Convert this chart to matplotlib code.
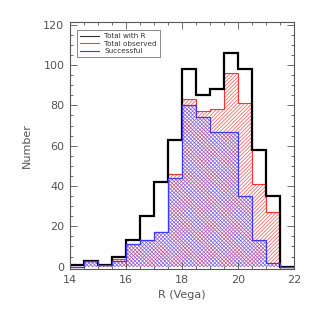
import numpy as np
import matplotlib.pyplot as plt
from matplotlib.ticker import MultipleLocator

# bin edges in R (Vega)
edges = np.arange(14.0, 22.01, 0.5)
# counts per bin
total_r = [1, 3, 1, 5, 13, 25, 42, 63, 98, 85, 88, 106, 98, 58, 35, 0]
observed = [0, 3, 1, 4, 11, 13, 17, 46, 83, 77, 78, 96, 81, 41, 27, 0]
success = [0, 3, 1, 3, 11, 13, 17, 44, 80, 74, 67, 67, 35, 13, 2, 0]

plt.rcParams['hatch.linewidth'] = 0.5
fig = plt.figure(figsize=(3.15, 3.15), dpi=100)
ax = fig.add_axes([0.222, 0.146, 0.711, 0.785])

gray = '#555555'
ax.stairs(observed, edges, fill=True, facecolor='none', edgecolor='#ff5050',
          hatch='/' * 9, linewidth=0)
ax.stairs(success, edges, fill=True, facecolor='none', edgecolor='#5050ff',
          hatch='\\' * 9, linewidth=0)
ax.stairs(observed, edges, color='#ff3030', linewidth=0.8)
ax.stairs(total_r, edges, color='black', linewidth=1.6)
ax.stairs(success, edges, color='#3a3aff', linewidth=0.9)

ax.plot([], [], color='#333333', lw=0.8, label='Total with R')
ax.plot([], [], color='#ff4040', lw=0.8, label='Total observed')
ax.plot([], [], color='#4040ff', lw=0.8, label='Successful')
leg = ax.legend(loc='upper left', fontsize=5.2, frameon=True, fancybox=False,
                handlelength=2.6, borderpad=0.4, labelspacing=0.2,
                bbox_to_anchor=(0.015, 0.98))
leg.get_frame().set_edgecolor(gray)
leg.get_frame().set_linewidth(0.6)
for t in leg.get_texts():
    t.set_color('#333333')

ax.set_xlim(14, 22)
ax.set_ylim(-1.2, 121.5)
ax.xaxis.set_major_locator(MultipleLocator(2))
ax.xaxis.set_minor_locator(MultipleLocator(0.5))
ax.yaxis.set_major_locator(MultipleLocator(20))
ax.yaxis.set_minor_locator(MultipleLocator(5))
ax.tick_params(which='both', direction='in', top=True, right=True,
               colors=gray, labelsize=8, width=0.6, pad=4)
ax.tick_params(which='major', length=5)
ax.tick_params(which='minor', length=2.5)
for s in ax.spines.values():
    s.set_color(gray)
    s.set_linewidth(0.8)
ax.set_xlabel('R (Vega)', fontsize=8, color=gray)
ax.set_ylabel('Number', fontsize=8, color=gray, labelpad=8)

fig.savefig('out.png', dpi=100)
